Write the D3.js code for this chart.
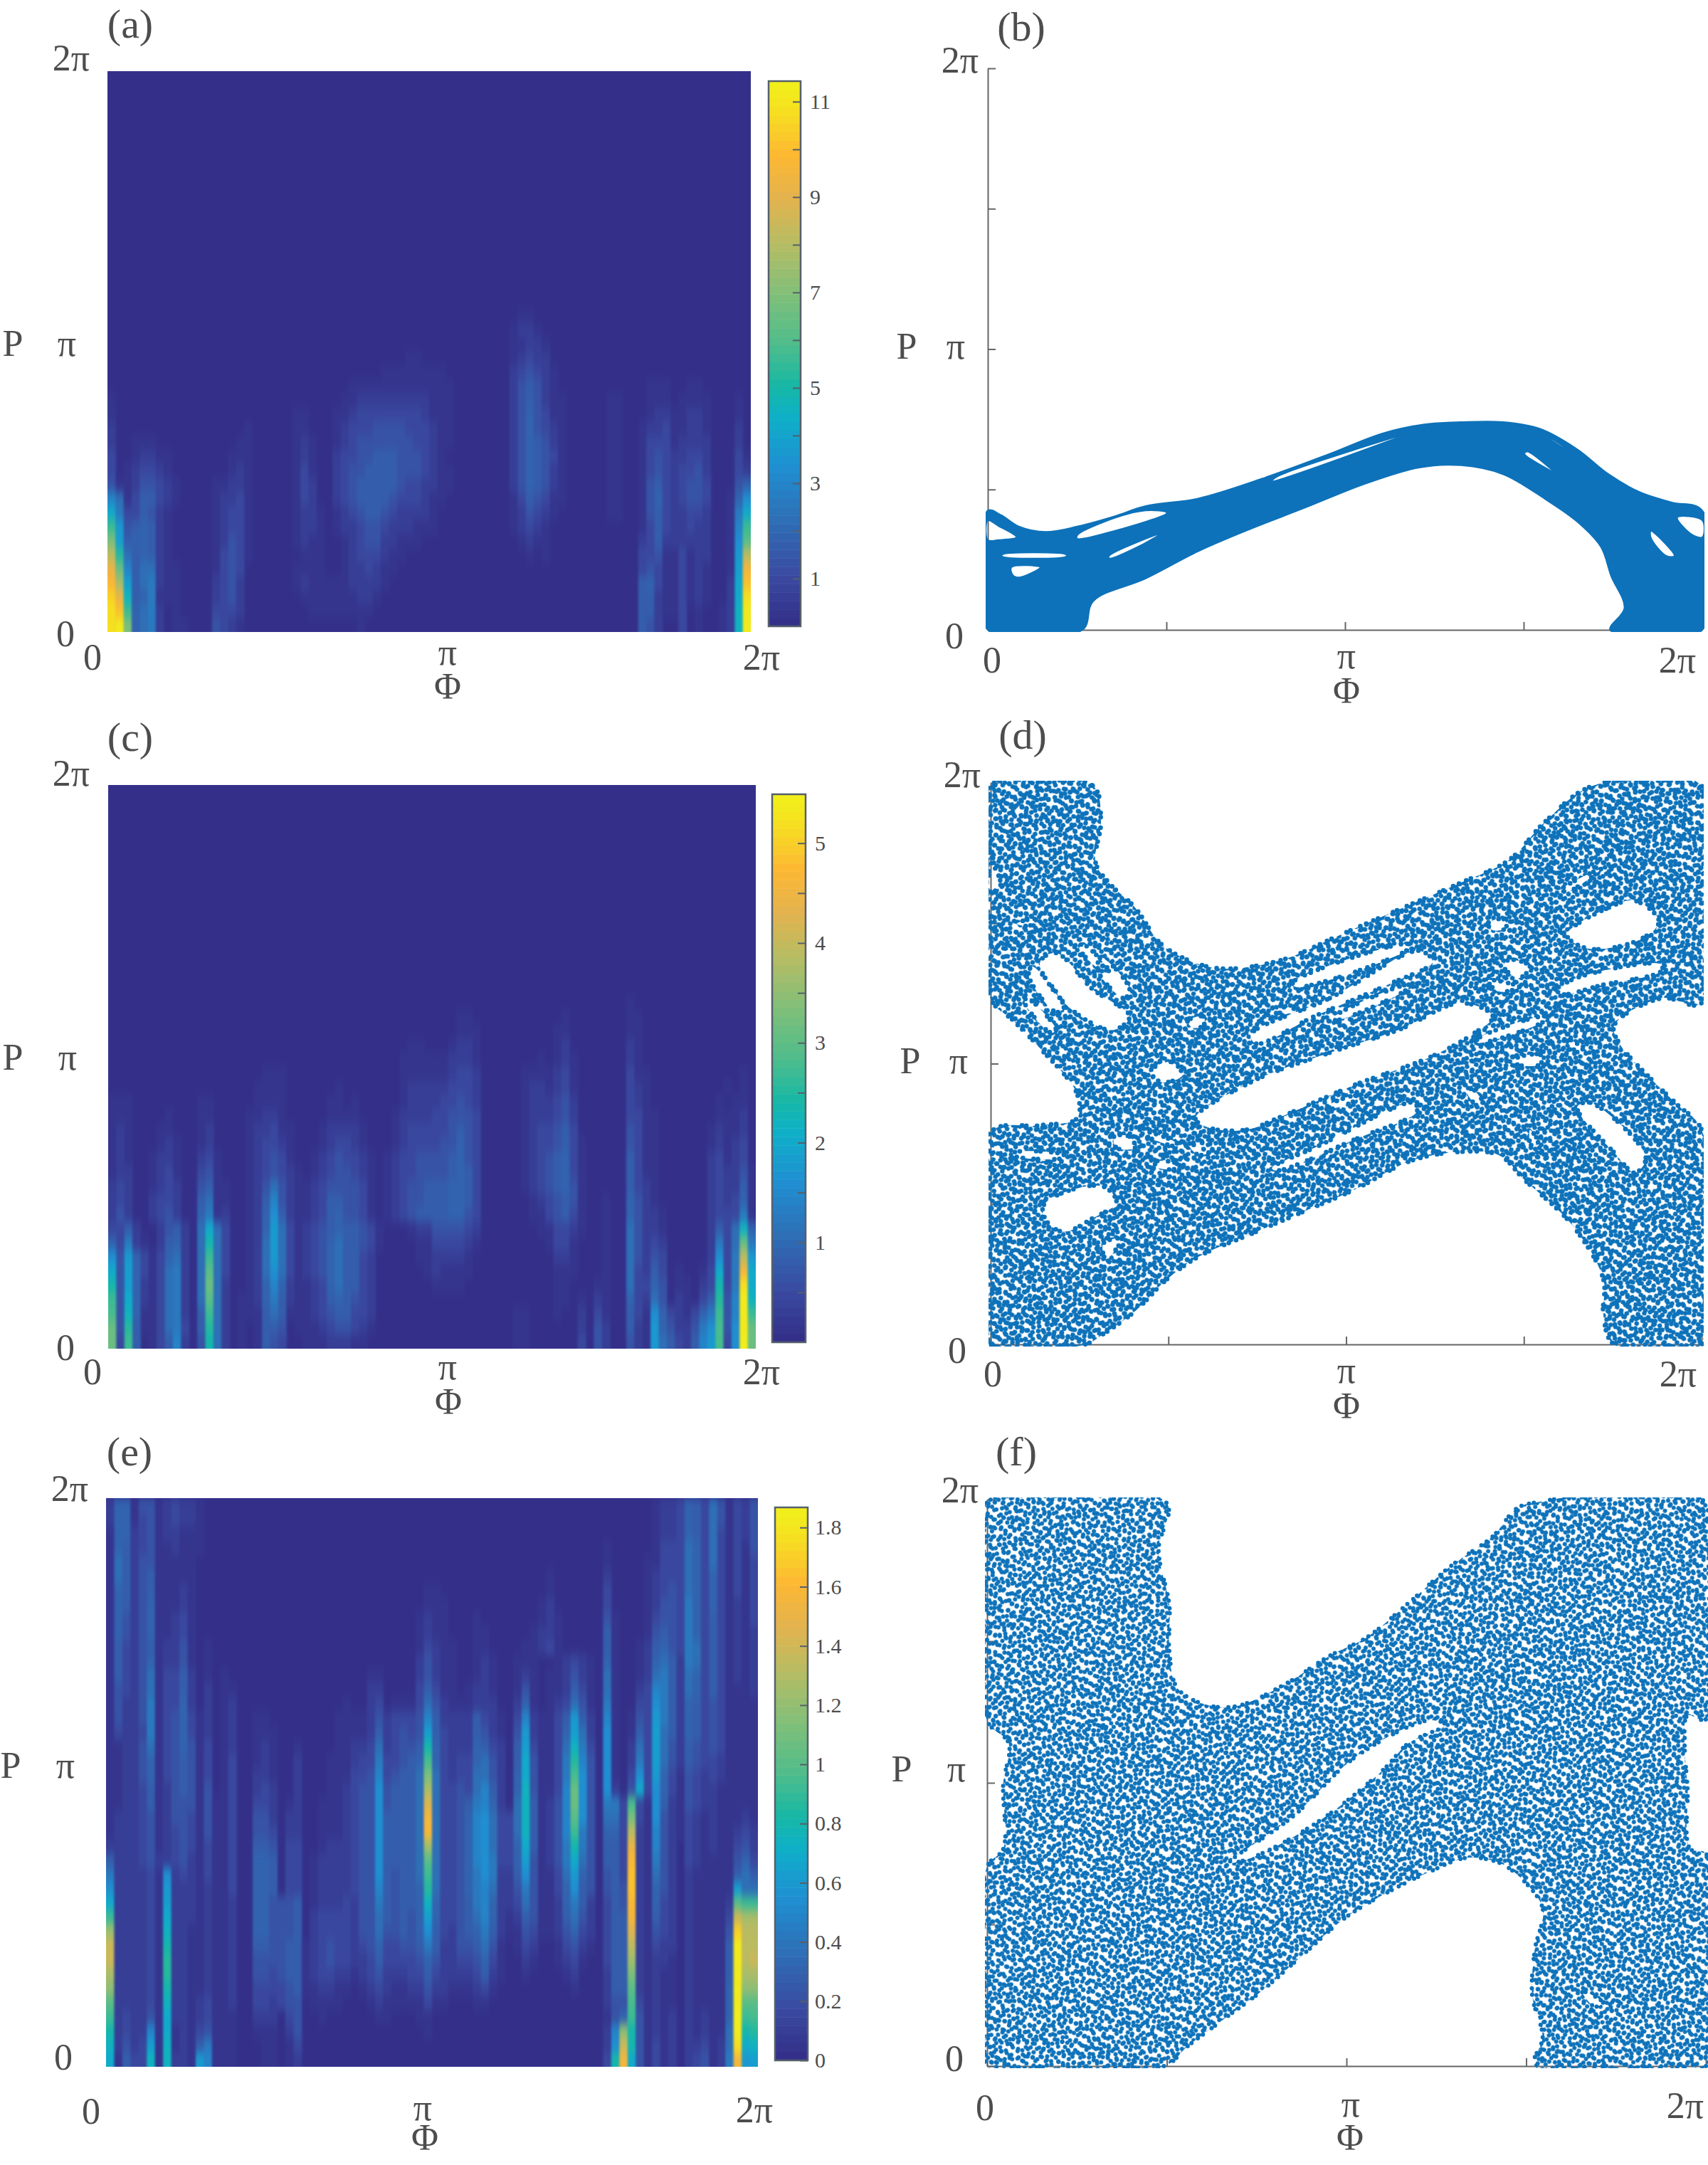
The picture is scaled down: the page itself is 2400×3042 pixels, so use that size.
<!DOCTYPE html>
<html>
<head>
<meta charset="utf-8">
<script src="https://cdn.jsdelivr.net/npm/d3@7"></script>
<style>
  html, body { margin: 0; background: #fff; }
  text { font-family: "Liberation Serif", serif; fill: #4d4d4d; }
</style>
</head>
<body>
<svg id="chart" width="2400" height="3042"></svg>
<script>
// Heatmap rows run top to bottom, 80 columns in groups of ten.
// One base-36 digit per cell: 0 is the colorbar floor, z is its ceiling.
// Rows not listed at the top are empty.
var heatA = [
"0000000000 0000000000 0000000000 0000000000 0000000000 0110000000",
"0000000000 0000000000 0000000000 0000000000 0000000000 1221000000",
"0000000000 0000000000 0000000000 0000000000 0000000000 1122100000",
"0000000000 0000000000 0000000000 0000000110 0000000000 1232200000",
"0000000000 0000000000 0000000000 0000111111 1100000000 2343210000",
"0000000000 0000000000 0000000000 1111111111 1110000000 2454210000 0000000111 0011000000",
"1000000000 0000000000 0000000001 1222222222 1110000000 2454211000 0011000111 0111100010",
"1000000000 0000000000 0001100011 2333333332 1110000000 2464311000 0011000122 1122100010",
"2000000000 0000000100 0001100012 3334444333 2110000000 2464321000 0011001223 1122100020",
"2001110000 0000001100 0001210012 3444444433 2110000000 2465421000 0011001333 1222200020",
"3001221100 0000011100 0001210023 3445554443 2100000000 2465431000 0011001343 2233200031",
"3012332100 0000012100 0001310023 4455554443 2110000000 2465421000 0011001343 2334200032",
"4112443210 0001122100 0001320023 4555554332 2110000000 2465421000 0011001453 2344300046",
"9713553210 0001223100 0001320023 4555543332 1100000000 1354311000 0011001463 234430016a",
"d833542100 0001233100 0001221012 3455432222 1000000000 1243210000 0011001453 223320018d",
"hb45652100 0001233100 0001221012 2344322211 1000000000 1232100000 0000001353 223220019h",
"lc56652100 0001243100 0001211001 2344221110 0000000000 0121100000 0000002352 22222001aj",
"pg75652100 0001343100 0000111001 2333211000 0000000000 0010100000 0000003341 13122001bp",
"sk95772110 0001343000 0001111001 2232110000 0000000000 0000000000 0000003431 13121001ct",
"uoc5782110 0002342000 0001211111 2222100000 0000000000 0000000000 0000005631 13121002dv",
"wse5681110 0002342000 0000111111 1221000000 0000000000 0000000000 0000005521 13121002dx",
"xvh6782010 0003332000 0000011111 1110000000 0000000000 0000000000 0000005521 13010012ey",
"xyl6782011 0004321000 0000000000 0100000000 0000000000 0000000000 0000005420 03010012ey"
];
var heatC = [
"0000000000 0000000000 0000000000 0000000000 0000000000 0000000000 0000100000",
"0000000000 0000000000 0000000000 0000000000 0001100000 0000001000 0000110000",
"0000000000 0000000000 0000000000 0000000000 0001110000 0000011000 0000110000",
"0000000000 0000000000 0000000000 0000000110 0012210000 0000012000 0000210000",
"0000000000 0000000000 0000000000 0000001111 1122210000 0001012100 0000210000",
"0000000000 0000000001 1100000000 0000001111 1123320000 0111123100 0000311000 0000000010",
"0000000000 0000000011 1100000010 0000001222 2233320000 0122123100 0000321000 0000001010",
"1110000000 0110000011 1100000110 1000001222 2334320000 0122234200 0000321000 0000010110",
"1110000100 0110000112 2100000111 1000012222 3344430000 0122234200 0000331100 0000011120",
"1210001100 0120000122 3110001222 2100012333 3345430000 0123345300 0000431100 0000121120",
"1210001210 0120000123 3210001233 2100012333 3446430000 0123345310 0000431100 0000121230",
"1210012210 0231000123 4310012343 3210123344 4456430000 0123456310 0000531100 0000231230",
"1220012310 0341000123 4321012344 3210123344 4456530000 0123456310 0000531100 0000232241",
"2320012320 0451100124 7421123444 4310123445 5566530000 0123456410 0000532100 0000232251",
"2320023320 0571100125 9421123554 4310123445 5566530000 0012345410 0100642100 0000232361",
"2420023420 0681200126 a521123564 4310123455 5566430000 0011345310 0100642210 0000233381",
"3352002452 07d7300126 b731234565 5431000122 4444320000 0001133210 0100742210 00002537e6",
"6382102562 07f7300127 b731234675 5431000011 3333210000 0000133100 0100742320 00002837k8",
"a4b6313672 07h7300127 b731234675 5320000011 2222100000 0000022100 0100742430 00002a38pb",
"d4c6313782 07j7300127 a731234675 5320000001 2111100000 0000011100 0100732530 10013d38td",
"f4c6213782 07k7200126 9621123675 5320000000 1111000000 0000011000 1100733640 11023f38xd",
"h4d6213782 07j7201126 8521123565 4320000000 0000000000 0000011010 2100632740 21035g49ye",
"i4e6113782 05h7201115 7511123455 3320000000 0000000000 1100010020 3100531a63 21368h49yh",
"k4g5113783 05g7201015 5401112344 3210000000 0000000000 1100000020 4200521b64 2248ai4ayk",
"k3h5013592 04f7201015 4300111222 1100000000 0000000000 1100000030 4200421b75 3259bi3azk"
];
var heatE = [
"2661441232 2100000000 0000000000 0000000000 0000000000 0000000000 0000000122 3653741324",
"2661341232 2100000000 0000000000 0000000000 0000000000 0000000000 0000000122 3653741324",
"1662341221 1100000000 0000000000 0000000000 0000000000 0000000000 0000000122 3653731324",
"1652341121 1100000000 0000000000 0000000000 0000000000 0000000000 0100000133 3763731314",
"1752441111 1000000000 0000000000 0000000000 0000000000 0000000000 0100001133 3763731313",
"1752451111 1000000000 0000000000 0000000000 0000000000 0000100000 0200001233 3763631313",
"1652451112 1000000000 0000000000 0000000001 1000000000 0000100000 0300001234 3763631313",
"1652461112 1000000000 0000000000 0000000001 1100000000 0001200000 0300001244 3863631213",
"1642461123 1000000000 0000000000 0000000012 1100010000 0001210000 0410001344 3863531213",
"1642461123 1000000000 0000000000 0000000012 1100011000 0012210000 0510001454 3863531212",
"1532451224 1010000000 0000000000 0000000013 2110011000 0112310000 0510012564 3873531212",
"1532461224 1010000000 0000000000 0000000024 2110012100 1110012321 0610012675 2873531212",
"1532471335 2010100000 0000000000 0011000024 2110012100 1210112421 0710012785 2763531212",
"1432471335 2020110000 0000000000 0022000035 3110122100 1410112531 0710023985 2763531112",
"1422481336 2020120000 0000000001 0023011137 4211122200 2610123741 0810033a85 2653431111",
"1422481346 3120120011 0000000011 1124233349 5222253210 3921135b52 0910143b85 2653431111",
"1322381346 3120120011 1000000011 112523434c 5322254210 4b21136c72 0a10153c75 2653431111",
"1122471346 4130120012 1001000011 223723445f 6322265320 5c31137e83 0a10273c74 2543431111",
"1122461345 4130130012 1002000111 233833456i 6323367420 5d41138g94 0a10283c74 2543321111",
"1122461345 4130130022 1002000111 334934557l 7323377420 6d41138ia4 0a103a3b63 1432321111",
"1122351245 4140130023 2002000112 344a45557o 7334379520 6e41139ka4 0a204d3a63 1432211111",
"1122351244 4141130033 2012001112 344a45557r 7334589620 7e51249ka4 0883i31a52 1432211111",
"1222341244 3141130044 2022001112 344a55557t 733469a733 7e51249ja4 0773l31a42 1321211121",
"1222341234 3141130044 3022001112 344a55557u 733469a733 7e51249h84 0663p21942 1321211232",
"2222341234 3131130055 4033001222 344a55557n 733469a733 6d51248f84 0553s21942 0321211342",
"5222342234 2131130066 5033012222 344a55557j 733469a833 6c41248d74 0553u21842 0321111463",
"8222231a23 2131130066 5033012222 344a54557h 733468a822 5a41137b64 0453v21742 0211111575",
"a222231b22 2121130066 5033012222 344954556g 7334689722 4841136a54 0454v21642 0211111c77",
"d222231c22 2121120066 4445012223 244854556e 6334589622 3741126852 0354u21632 0211112jhh",
"h222231d22 2121120066 4445023333 244754546c 6334579621 2541125742 0355t21532 0211113qoo",
"n222231e22 1121120066 4445023333 244744546a 5324568521 1431124632 0355r21432 0211114wpp",
"q222231f22 1121120055 4455123433 2346334458 5224457410 1320013421 0355p21322 0211115ypp",
"q222231g22 1121120044 4455123433 2235333346 4223346310 0210012310 0355n21221 0211115ypq",
"o222231g22 1121120044 3455123322 1234222335 3222235210 0100001200 0255l21211 0211115yoo",
"m222231f22 1121120033 3345112211 0123211224 2211123100 0000000100 0255j21211 0211116ymm",
"j222231e22 1231120033 2344011110 0012111113 1100011000 0000000000 0244i31211 0211116yjj",
"h232241d22 1231110022 2034001000 0001100011 0000000000 0000000000 0146h41212 0212116zhi",
"f232291d12 1341110011 1024000000 0000000001 0000000000 0000000000 029mf41212 0212117yfg",
"e2423c1e12 1581110001 1013000000 0000000000 0000000000 0000000000 02aqf41312 0223127xde",
"d1533e1e22 1b91110001 1012000000 0000000000 0000000000 0000000000 03ftd41312 0234128tbc"
];

var colorStops = ["#34308a", "#3a4aa0", "#2d72b8", "#1f8fd2", "#0fafc9", "#17b8a5", "#50bd8b", "#80bf7a", "#b3bd65", "#e4b34e", "#fdb832", "#f5e31f", "#f2ee1c"];
var colorStopAt = [0, 0.087, 0.2, 0.29, 0.38, 0.44, 0.52, 0.61, 0.7, 0.79, 0.87, 0.96, 1];

// Colorbar ticks: [all ticks, labelled ticks]
var ticksA = [[1,2,3,4,5,6,7,8,9,10,11], [1,3,5,7,9,11]];
var ticksC = [[0.5,1,1.5,2,2.5,3,3.5,4,4.5,5], [1,2,3,4,5]];
var ticksE = [[0,0.2,0.4,0.6,0.8,1,1.2,1.4,1.6,1.8], [0,0.2,0.4,0.6,0.8,1,1.2,1.4,1.6,1.8]];

var phaseTicks = [0, 0.5, 1, 1.5, 2];

// The scatter clouds hold far too many points to read one by one, so panels
// b, d and f are outlines of the filled regions, read off the picture as
// [phi/pi, P/pi]. The first ring is the outer edge, the others are holes.
var cloudB = [
[[0,.425],[.037,.409],[.088,.368],[.162,.349],[.25,.368],[.353,.404],[.442,.441],[.589,.468],[.766,.538],[.957,.627],[1.105,.7],[1.222,.732],[1.325,.74],[1.443,.74],[1.546,.716],[1.65,.643],[1.738,.554],[1.826,.49],[1.915,.454],[2,.425],[2,0],[1.742,0],[1.782,.078],[1.745,.191],[1.716,.296],[1.65,.385],[1.561,.465],[1.443,.554],[1.325,.586],[1.208,.578],[1.06,.522],[.884,.433],[.736,.36],[.589,.28],[.442,.183],[.295,.102],[.265,0],[0,0]],
[[.25,.325],[.353,.352],[.501,.417],[.442,.425],[.324,.384],[.25,.336]],
[[0,.39],[.03,.37],[.08,.33],[.03,.32],[0,.32]],
[[.066,.223],[.147,.223],[.088,.187],[.07,.195]],
[[.339,.263],[.486,.344],[.427,.3],[.34,.255]],
[[.04,.268],[.22,.268],[.22,.262],[.04,.262]],
[[1.856,.352],[1.922,.263],[1.9,.263],[1.856,.328]],
[[1.502,.627],[1.65,.514],[1.62,.53],[1.51,.635]],
[[1.576,.683],[1.738,.538],[1.664,.603],[1.561,.691]],
[[.795,.53],[1.178,.7],[1.03,.643],[.81,.546]],
[[1.93,.4],[2,.39],[2,.33],[1.97,.34]]
];
var cloudD = [
[[0,1.99],[.287,1.99],[.31,1.863],[.295,1.717],[.332,1.645],[.406,1.556],[.48,1.426],[.569,1.362],[.658,1.338],[.821,1.37],[.984,1.459],[1.176,1.564],[1.324,1.645],[1.458,1.725],[1.561,1.863],[1.695,1.99],[2,1.99],[2,1.216],[1.887,1.233],[1.754,1.136],[1.769,1.071],[1.873,.926],[1.932,.853],[2,.764],[2,0],[1.754,0],[1.724,.102],[1.724,.231],[1.636,.425],[1.502,.586],[1.428,.675],[1.295,.683],[1.176,.651],[1.028,.554],[.88,.473],[.732,.393],[.584,.312],[.495,.231],[.406,.118],[.317,.037],[.265,0],[0,0],[0,.755],[.139,.78],[.243,.805],[.243,.893],[.139,1.055],[.065,1.152],[0,1.233]],
[[.576,.805],[.732,.934],[.954,1.039],[1.147,1.12],[1.324,1.216],[1.413,1.168],[1.354,1.103],[1.236,1.023],[1.028,.926],[.821,.813],[.717,.764],[.613,.772]],
[[.732,1.103],[.954,1.233],[1.206,1.402],[1.243,1.362],[1.117,1.281],[.91,1.168],[.747,1.071]],
[[.139,1.362],[.184,1.394],[.287,1.265],[.391,1.168],[.347,1.12],[.273,1.152],[.184,1.249]],
[[.31,1.378],[.391,1.265],[.376,1.233],[.302,1.33]],
[[.147,.49],[.199,.538],[.317,.562],[.354,.506],[.287,.449],[.206,.401],[.161,.433]],
[[1.621,1.459],[1.739,1.556],[1.813,1.58],[1.88,1.507],[1.828,1.443],[1.68,1.41]],
[[1.65,.845],[1.687,.861],[1.843,.667],[1.813,.611],[1.754,.683]],
[[.791,.627],[.924,.708],[1.191,.861],[1.199,.829],[1.028,.732],[.806,.619]],
[[0,1.717],[.028,1.636],[0,1.612]],
[[1.606,1.62],[1.717,1.693],[1.695,1.669],[1.621,1.612]],
[[.45,.974],[.51,1.006],[.539,.958],[.48,.934]],
[[.554,1.152],[.599,1.168],[.599,1.136],[.569,1.128]],
[[1.458,1.37],[1.517,1.346],[1.487,1.305],[1.443,1.346]],
[[1.606,1.249],[1.724,1.281],[1.887,1.33],[1.887,1.354],[1.621,1.289]],
[[1.473,1.015],[1.547,1.031],[1.547,.998],[1.48,.998]],
[[1.621,1.087],[1.65,1.071],[1.68,1.023],[1.636,1.055]],
[[.347,.74],[.391,.74],[.406,.7],[.354,.7]],
[[.465,.651],[.524,.643],[.524,.627],[.465,.632]],
[[.554,.716],[.613,.683],[.584,.675]],
[[.317,.36],[.369,.376],[.324,.304]],
[[1.399,1.499],[1.443,1.515],[1.45,1.483],[1.413,1.475]],
[[.073,1.499],[.124,1.515],[.11,1.491]],
[[1.399,1.297],[1.487,1.273],[1.428,1.257]],
[[.139,.643],[.199,.651],[.169,.635]],
[[.117,1.346],[.206,1.2],[.184,1.184],[.107,1.313]],
[[.102,1.233],[.184,1.12],[.17,1.11],[.095,1.22]],
[[.85,1.289],[1.176,1.426],[1.176,1.41],[.858,1.273]],
[[.969,1.168],[1.176,1.281],[1.176,1.27],[.969,1.155]],
[[.065,.683],[.206,.675],[.206,.665],[.065,.672]],
[[.954,.853],[1.028,.885],[1.028,.872],[.954,.84]],
[[.258,1.426],[.332,1.33],[.32,1.325],[.25,1.41]],
[[1.369,1.087],[1.561,1.168],[1.561,1.155],[1.369,1.074]],
[[.436,.756],[.524,.716],[.524,.706],[.436,.745]],
[[1.354,.91],[1.384,.861],[1.37,.85],[1.34,.9]],
[[1.517,.764],[1.54,.72],[1.52,.71]]
];
var cloudF = [
[[0,1.989],[.499,1.989],[.477,1.822],[.507,1.627],[.507,1.465],[.529,1.335],[.603,1.278],[.691,1.27],[.822,1.343],[.953,1.448],[1.056,1.513],[1.173,1.635],[1.29,1.765],[1.407,1.87],[1.473,1.968],[1.524,1.989],[2,1.989],[2,1.224],[1.949,1.238],[1.941,1.14],[1.949,.978],[1.956,.767],[2,.751],[2,0],[1.524,0],[1.546,.102],[1.517,.248],[1.524,.41],[1.546,.556],[1.48,.67],[1.422,.719],[1.334,.735],[1.231,.686],[1.114,.613],[.997,.524],[.88,.394],[.763,.264],[.66,.167],[.558,.07],[.492,0],[0,0],[0,.703],[.045,.767],[.045,.994],[.06,1.14],[0,1.221]],
[[.675,.719],[.851,.881],[1.026,1.092],[1.231,1.221],[1.275,1.205],[1.173,1.14],[1.1,1.043],[.924,.865],[.735,.735]],
[[1.656,.264],[1.714,.224],[1.69,.21]]
];

// Dot positions of the two texture tiles used to fill d and f
var stippleA = [[3,2],[8,5],[19,3],[24,9],[38,1],[44,4],[47,11],[60,2],[63,8],[12,13],[5,17],[15,19],[31,12],[34,18],[53,13],[58,17],[66,20],[22,22],[27,26],[41,22],[44,27],[50,24],[3,28],[9,31],[16,33],[35,31],[57,29],[62,33],[24,38],[29,41],[40,37],[47,39],[52,36],[6,42],[12,45],[18,47],[36,46],[59,42],[65,45],[2,52],[24,51],[30,55],[44,50],[49,54],[55,50],[9,56],[15,59],[37,58],[61,56],[66,59],[21,15],[33,6],[55,6],[41,15],[11,24],[31,34],[54,44],[43,44],[20,58],[27,47]];
var stippleB = [[4,3],[10,8],[22,2],[27,6],[38,4],[49,9],[2,15],[16,13],[21,18],[33,14],[44,16],[50,19],[8,24],[12,29],[27,26],[36,24],[41,29],[5,36],[19,34],[24,38],[47,33],[52,38],[11,44],[16,48],[31,42],[36,47],[44,44],[2,51],[25,53],[30,57],[40,55],[49,50],[8,60],[14,64],[21,62],[35,65],[45,62],[51,67],[3,68],[28,68],[41,70],[17,21],[33,33]];

var panels = [
  {kind: "heat", name: "a", rows: heatA, max: 11.43, ticks: ticksA, left: 151, right: 1055, top: 100, bottom: 888,
   bar: {left: 1080, right: 1125, top: 114, bottom: 880, label: 1138},
   text: [["2π",100,99],["π",94,500],["0",92,908],["P",18,500],["0",130,941],["π",629,934],["2π",1070,941],["Φ",629,982],["(a)",183,53,58]]},
  {kind: "cloud", name: "b", cloud: cloudB, solid: true, left: 1388, right: 2392, top: 96, bottom: 885,
   text: [["2π",1349,102],["π",1343,504],["0",1341,911],["P",1274,504],["0",1394,945],["π",1892,939],["2π",2357,945],["Φ",1892,988],["(b)",1435,57,58]]},
  {kind: "heat", name: "c", rows: heatC, max: 5.49, ticks: ticksC, left: 152, right: 1062, top: 1103, bottom: 1895,
   bar: {left: 1085, right: 1132, top: 1116, bottom: 1886, label: 1145},
   text: [["2π",100,1104],["π",95,1503],["0",92,1911],["P",18,1503],["0",130,1945],["π",629,1938],["2π",1070,1945],["Φ",630,1987],["(c)",183,1055,58]]},
  {kind: "cloud", name: "d", cloud: cloudD, dot: 3.3, left: 1392, right: 2391, top: 1100, bottom: 1889,
   text: [["2π",1352,1106],["π",1347,1508],["0",1345,1915],["P",1279,1508],["0",1395,1948],["π",1892,1943],["2π",2358,1948],["Φ",1892,1993],["(d)",1437,1052,58]]},
  {kind: "heat", name: "e", rows: heatE, max: 1.868, ticks: ticksE, left: 149, right: 1065, top: 2105, bottom: 2904,
   bar: {left: 1089, right: 1135, top: 2118, bottom: 2895, label: 1145},
   text: [["2π",98,2109],["π",92,2498],["0",89,2908],["P",15,2498],["0",128,2984],["π",594,2979],["2π",1060,2982],["Φ",597,3021],["(e)",182,2059,58]]},
  {kind: "cloud", name: "f", cloud: cloudF, dot: 3.0, left: 1387, right: 2397, top: 2107, bottom: 2903,
   text: [["2π",1349,2111],["π",1344,2503],["0",1341,2910],["P",1267,2503],["0",1384,2979],["π",1898,2974],["2π",2368,2976],["Φ",1897,3021],["(f)",1428,2059,58]]}
];

var svg = d3.select('#chart');
var parula = d3.scaleLinear().domain(colorStopAt).range(colorStops);

// MATLAB style stepped colormap
var stepColor = function(t) {
  return parula(Math.min(63, Math.floor(t * 64)) / 63);
};

var defs = svg.append('defs');

// heat rows are twice as tall as the original cells, soften the steps
defs.append('filter').attr('id', 'soft')
  .attr('x', '-5%').attr('y', '-5%').attr('width', '110%').attr('height', '110%')
  .attr('color-interpolation-filters', 'sRGB')
  .append('feGaussianBlur').attr('stdDeviation', '1.5 7');

var addClip = function(id, p, margin) {
  defs.append('clipPath').attr('id', id).append('rect')
    .attr('x', p.left - margin).attr('y', p.top - margin)
    .attr('width', p.right - p.left + 2 * margin)
    .attr('height', p.bottom - p.top + 2 * margin);
};

var addTile = function(id, dots, w, h, angle, r) {
  var tile = defs.append('pattern').attr('id', id)
    .attr('patternUnits', 'userSpaceOnUse')
    .attr('width', w).attr('height', h)
    .attr('patternTransform', 'rotate(' + angle + ')');
  // dots near the tile edge are repeated so they do not get cut
  [-w, 0, w].forEach(function(dx) {
    [-h, 0, h].forEach(function(dy) {
      tile.selectAll(null).data(dots).enter().append('circle')
        .attr('cx', function(d) { return d[0] + dx; })
        .attr('cy', function(d) { return d[1] + dy; })
        .attr('r', r)
        .attr('fill', '#0d72ba');
    });
  });
};

var drawHeat = function(p) {
  var rows = p.rows.map(function(r) {
    return r.split(' ').map(function(g) { return g.padEnd(10, '0'); }).join('').padEnd(80, '0');
  });
  var nRows = 40;
  var nCols = 80;
  var bleed = 40;
  var firstRow = nRows - rows.length;
  var x = d3.scaleLinear().domain([0, nCols]).range([p.left, p.right]);
  var y = d3.scaleLinear().domain([0, nRows]).range([p.top, p.bottom]);
  var value = d3.scaleLinear().domain([0, 35]).range([0, p.max]);
  var color = function(v) { return stepColor(v / p.max); };

  addClip('clip-' + p.name, p, 0);
  var g0 = svg.append('g').attr('clip-path', 'url(#clip-' + p.name + ')');
  var gHeat = g0.append('g').attr('filter', 'url(#soft)');

  gHeat.append('rect')
    .attr('x', p.left - bleed).attr('y', p.top - bleed)
    .attr('width', p.right - p.left + 2 * bleed).attr('height', p.bottom - p.top + 2 * bleed)
    .attr('fill', color(0));

  var cells = [];
  rows.forEach(function(r, i) {
    r.split('').forEach(function(c, j) {
      if (c !== '0') cells.push({row: firstRow + i, col: j, v: value(parseInt(c, 36))});
    });
  });
  // cells on the frame run past it so the softening does not fade the edges
  gHeat.selectAll('rect.cell').data(cells).enter().append('rect')
    .attr('class', 'cell')
    .attr('x', function(d) { return x(d.col) - (d.col === 0 ? bleed : 0); })
    .attr('y', function(d) { return y(d.row); })
    .attr('width', function(d) { return x(1) - x(0) + 0.5 + (d.col === 0 || d.col === nCols - 1 ? bleed : 0); })
    .attr('height', function(d) { return y(1) - y(0) + 0.5 + (d.row === nRows - 1 ? bleed : 0); })
    .attr('fill', function(d) { return color(d.v); });

  // colorbar
  var b = p.bar;
  var barY = d3.scaleLinear().domain([0, p.max]).range([b.bottom, b.top]);
  svg.append('g').selectAll('rect').data(d3.range(64)).enter().append('rect')
    .attr('x', b.left)
    .attr('y', function(d) { return barY((d + 1) / 64 * p.max); })
    .attr('width', b.right - b.left)
    .attr('height', (b.bottom - b.top) / 64 + 0.5)
    .attr('fill', function(d) { return stepColor((d + 0.5) / 64); });
  svg.append('rect')
    .attr('x', b.left).attr('y', b.top)
    .attr('width', b.right - b.left).attr('height', b.bottom - b.top)
    .attr('fill', 'none').attr('stroke', '#55606b').attr('stroke-width', 2.5);

  var axis = d3.axisRight(barY).tickValues(p.ticks[0]).tickSize(-11).tickSizeOuter(0)
    .tickFormat(function(d) { return p.ticks[1].indexOf(d) >= 0 ? d : ''; });
  var g = svg.append('g').attr('transform', 'translate(' + b.right + ',0)').call(axis);
  g.select('.domain').remove();
  g.selectAll('.tick line').attr('stroke', '#55606b').attr('stroke-width', 2);
  g.selectAll('.tick text')
    .attr('x', b.label - b.right).attr('text-anchor', 'start')
    .attr('font-size', 30).attr('fill', '#4d4d4d');
};

var drawCloud = function(p) {
  var x = d3.scaleLinear().domain([0, 2]).range([p.left, p.right]);
  var y = d3.scaleLinear().domain([0, 2]).range([p.bottom, p.top]);

  var xAxis = d3.axisBottom(x).tickValues(phaseTicks).tickSize(-11).tickSizeOuter(0).tickFormat('');
  var yAxis = d3.axisLeft(y).tickValues(phaseTicks).tickSize(-11).tickSizeOuter(0).tickFormat('');
  [[xAxis, 'translate(0,' + p.bottom + ')'], [yAxis, 'translate(' + p.left + ',0)']].forEach(function(a) {
    var g = svg.append('g').attr('transform', a[1]).call(a[0]);
    g.selectAll('path,line').attr('stroke', '#666').attr('stroke-width', 2);
  });

  addClip('clip-' + p.name, p, 3);
  var g0 = svg.append('g').attr('clip-path', 'url(#clip-' + p.name + ')');

  var ring = d3.line()
    .curve(d3.curveCatmullRomClosed.alpha(0.5))
    .x(function(d) { return x(d[0]); })
    .y(function(d) { return y(d[1]); });
  var d = p.cloud.map(function(r) { return ring(r); }).join('');

  if (p.solid) {
    g0.append('path').attr('d', d).attr('fill', '#0d72ba').attr('fill-rule', 'evenodd')
      .attr('stroke', '#0d72ba').attr('stroke-width', 2)
      .attr('stroke-linejoin', 'round');
    return;
  }
  addTile('tileA-' + p.name, stippleA, 67, 61, 17, p.dot);
  addTile('tileB-' + p.name, stippleB, 53, 71, -23, p.dot);
  ['tileA-', 'tileB-'].forEach(function(t) {
    g0.append('path').attr('d', d).attr('fill', 'url(#' + t + p.name + ')').attr('fill-rule', 'evenodd');
  });
  // loose round dots along the edges so the outline reads as points
  g0.append('path').attr('d', d).attr('fill', 'none')
    .attr('stroke', '#0d72ba').attr('stroke-width', p.dot * 2)
    .attr('stroke-linecap', 'round').attr('stroke-dasharray', '0 11 0 7 0 23 0 6 0 15 0 9');
};

panels.forEach(function(p) {
  if (p.kind === 'heat') drawHeat(p); else drawCloud(p);

  svg.append('g').selectAll('text').data(p.text).enter().append('text')
    .attr('x', function(d) { return d[1]; })
    .attr('y', function(d) { return d[2]; })
    .attr('text-anchor', 'middle')
    .attr('font-size', function(d) { return d[3] || 52; })
    .text(function(d) { return d[0]; });
});
</script>
</body>
</html>
